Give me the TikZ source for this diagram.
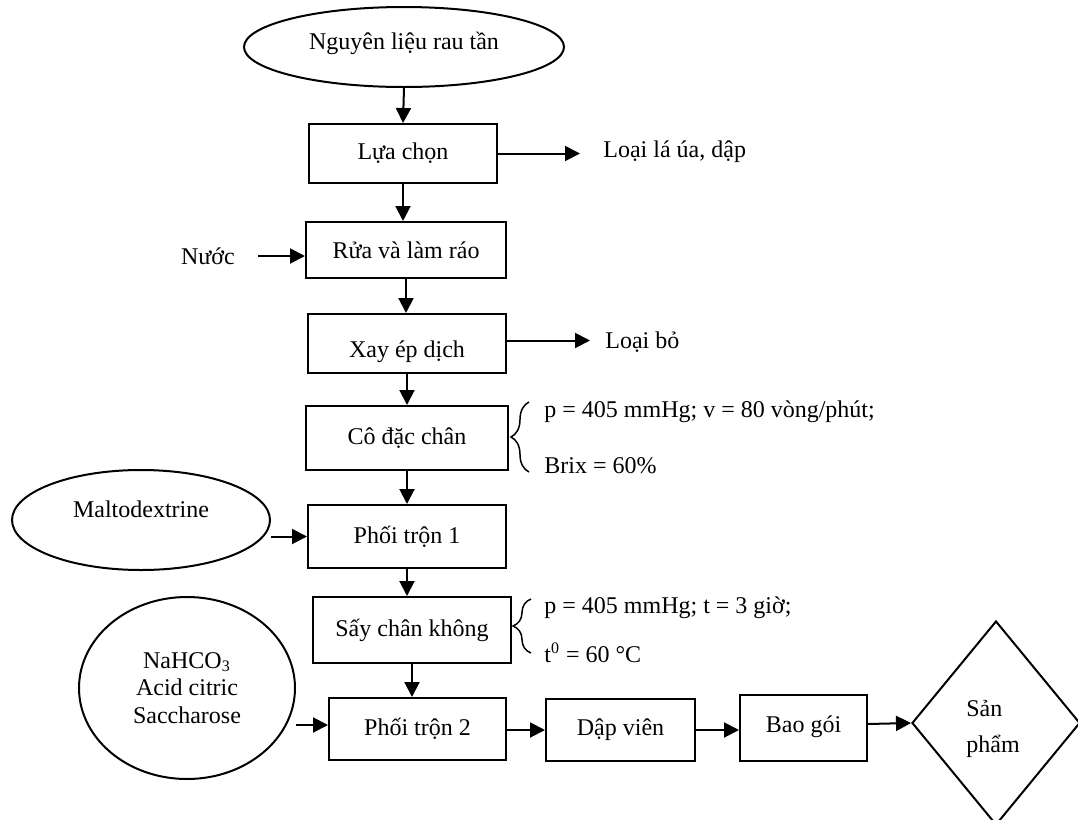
\documentclass[tikz,border=0pt]{standalone}
\usepackage{fontspec}
\setmainfont{Liberation Serif}
\usetikzlibrary{arrows.meta,shapes.geometric,decorations.pathreplacing}
\newcommand{\shiftt}[2]{\raisebox{#1}[0pt][0pt]{#2}}
\begin{document}
\begin{tikzpicture}[x=0.5pt,y=-0.5pt,
  font=\fontsize{12}{13.8}\selectfont,
  box/.style={draw,line width=1pt,inner sep=0pt},
  oval/.style={draw,ellipse,line width=1pt,inner sep=0pt,align=center},
  arr/.style={line width=1pt,-{Triangle[length=7.5pt,width=7.5pt]}},
  brc/.style={decorate,decoration={brace,amplitude=9pt},line width=0.75pt},
  lbl/.style={anchor=west,inner sep=0pt}]
\clip (0,0) rectangle (1078,820);
\fill[white] (0,0) rectangle (1078,820);
% nodes
\node[oval,minimum width=160pt,minimum height=40pt] (nl) at (404,47) {\shiftt{-1pt}{Nguyên liệu rau tần}};
\node[box,minimum width=94pt,minimum height=29.5pt] (lc) at (403,153.5) {Lựa chọn};
\node[lbl] (loai1) at (603,152) {Loại lá úa, dập};
\node[box,minimum width=100pt,minimum height=28pt] (rua) at (406,250) {Rửa và làm ráo};
\node[inner sep=0pt] (nuoc) at (208,256) {Nước};
\node[box,minimum width=99pt,minimum height=29.5pt] (xay) at (407,343.5) {\shiftt{-7pt}{Xay ép dịch}};
\node[lbl] (loai2) at (605,342) {Loại bỏ};
\node[box,minimum width=101pt,minimum height=32pt] (co) at (407,438) {Cô đặc chân};
\node[lbl] (co1) at (544,412) {p = 405 mmHg; v = 80 vòng/phút;};
\node[lbl] (co2) at (544,466) {Brix = 60\%};
\node[box,minimum width=99pt,minimum height=31.5pt] (pt1) at (407,536.5) {Phối trộn 1};
\node[oval,minimum width=129pt,minimum height=50pt] (malto) at (141,520) {\shiftt{1.5pt}{Maltodextrine}};
\node[box,minimum width=99pt,minimum height=33pt] (say) at (412,630) {Sấy chân không};
\node[lbl] (say1) at (544,608) {p = 405 mmHg; t = 3 giờ;};
\node[lbl] (say2) at (544,653) {t\textsuperscript{0} = 60 °C};
\node[oval,minimum width=108pt,minimum height=91pt] (nah) at (187,688) {NaHCO\textsubscript{3}\\Acid citric\\Saccharose};
\node[box,minimum width=88.5pt,minimum height=31pt] (pt2) at (417.5,729) {Phối trộn 2};
\node[box,minimum width=74.5pt,minimum height=31pt] (dv) at (620.5,730) {Dập viên};
\node[box,minimum width=63.5pt,minimum height=33pt] (bg) at (803.5,728) {\shiftt{-2pt}{Bao gói}};
\node[draw,diamond,line width=1pt,inner sep=0pt,minimum width=84pt,minimum height=102pt] (sp) at (996,723) {};
\node[align=left,inner sep=0pt] (sptxt) at (993,729) {Sản\\[4pt]phẩm};
% connectors
\draw[arr] (nl.south) -- (lc.north);
\draw[arr,shorten >=11.5pt] (lc.east) -- (lc.east -| loai1.west);
\draw[arr] (lc.south) -- (lc.south |- rua.north);
\draw[arr,shorten <=11.5pt] (nuoc.east) -- (nuoc.east -| rua.west);
\draw[arr] (rua.south) -- (rua.south |- xay.north);
\draw[arr,shorten >=7.5pt] ([yshift=1.5pt]xay.east) -- ([yshift=1.5pt]xay.east -| loai2.west);
\draw[arr] (xay.south) -- (xay.south |- co.north);
\draw[arr] (co.south) -- (co.south |- pt1.north);
\draw[arr] (malto.east |- pt1.west) -- (pt1.west);
\draw[arr] (pt1.south) -- (pt1.south |- say.north);
\draw[arr] (say.south) -- (say.south |- pt2.north);
\draw[arr] ([yshift=2pt]nah.east |- pt2.west) -- ([yshift=2pt]pt2.west);
\draw[arr] (pt2.east |- dv.west) -- (dv.west);
\draw[arr] (dv.east) -- (dv.east -| bg.west);
\draw[arr] ([yshift=2pt]bg.east) -- (sp.west);
% braces
\draw[brc] ([xshift=10pt,yshift=-0.5pt]co.south east) -- ([xshift=10pt,yshift=1.5pt]co.north east);
\draw[brc] ([xshift=9.5pt,yshift=5.5pt]say.south east) -- ([xshift=9.5pt,yshift=-1.5pt]say.north east);
\end{tikzpicture}
\end{document}
